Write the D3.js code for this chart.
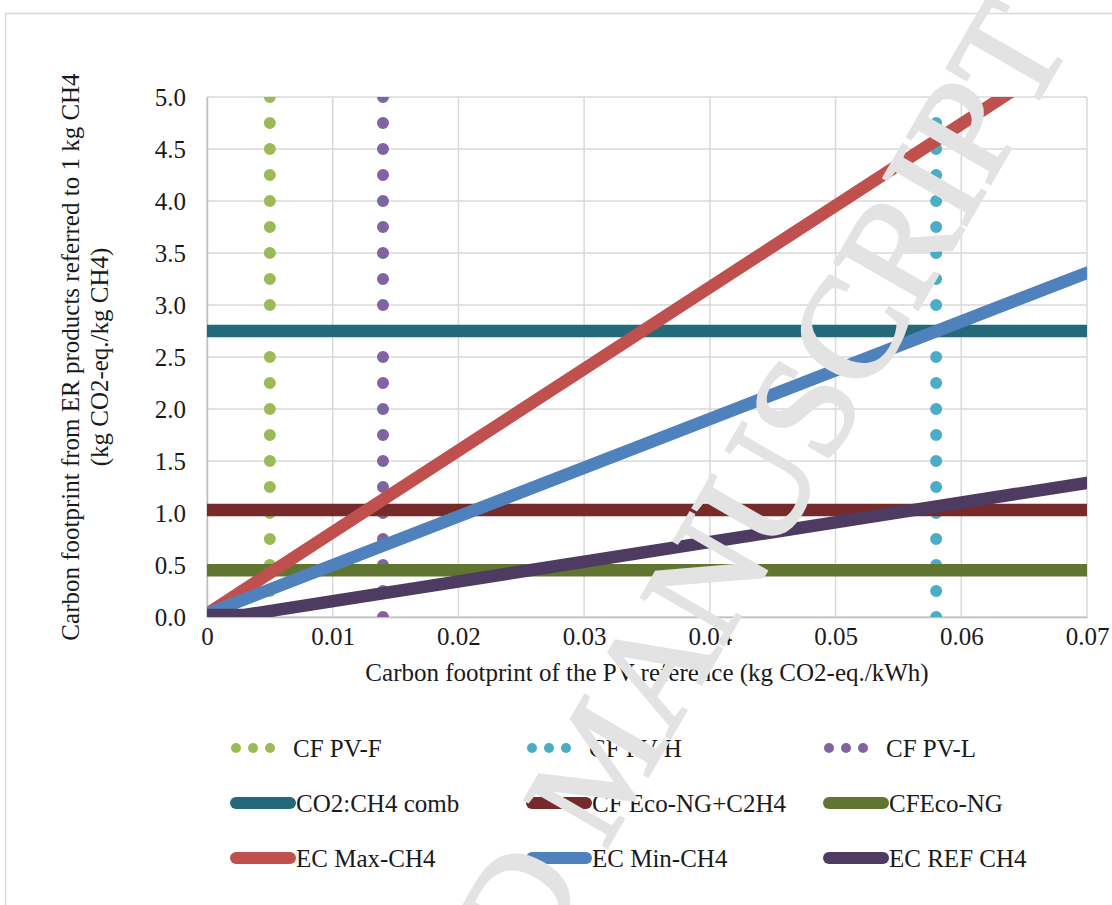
<!DOCTYPE html>
<html>
<head>
<meta charset="utf-8">
<script src="https://cdn.jsdelivr.net/npm/d3@7"></script>
<style>
  html, body { margin: 0; padding: 0; background: #ffffff; }
  svg { display: block; }
  text { font-family: "Liberation Serif", "Times New Roman", serif; fill: #1a1a1a; }
</style>
</head>
<body>
<svg id="chart" width="1112" height="905"></svg>
<script>
// ---- data ----
const xTicks = [0, 0.01, 0.02, 0.03, 0.04, 0.05, 0.06, 0.07];
const yTicks = [0, 0.5, 1.0, 1.5, 2.0, 2.5, 3.0, 3.5, 4.0, 4.5, 5.0];

// vertical reference lines (carbon footprint of each PV technology)
const pvNames  = ["CF PV-F", "CF PV-H", "CF PV-L"];
const pvValues = [0.005, 0.058, 0.014];
const pvColors = ["#9bbb59", "#4bacc6", "#8064a2"];

// horizontal reference lines
const refNames  = ["CO2:CH4 comb", "CF Eco-NG+C2H4", "CFEco-NG"];
const refValues = [2.75, 1.03, 0.45];
const refColors = ["#23697a", "#772a2a", "#5f7530"];

// emission curves vs. PV carbon footprint
const ecNames  = ["EC Max-CH4", "EC Min-CH4", "EC REF CH4"];
const ecColors = ["#c0504d", "#4f81bd", "#4e3b62"];
const ecMaxX = [0, 0.07];
const ecMaxY = [0.03, 5.525];
const ecMinX = [0, 0.07];
const ecMinY = [0.03, 3.31];
const ecRefX = [0, 0.003, 0.07];
const ecRefY = [0.02, 0.02, 1.29];

const xTitle = "Carbon footprint of the PV reference (kg CO2-eq./kWh)";
const yTitle = ["Carbon footprint from ER products referred to 1 kg CH4", "(kg CO2-eq./kg CH4)"];

// ---- layout ----
const FONT = 25;
const svg = d3.select("#chart");
const plot = { left: 207, right: 1087, top: 97, bottom: 617 };
const x = d3.scaleLinear().domain([0, 0.07]).range([plot.left, plot.right]);
const y = d3.scaleLinear().domain([0, 5]).range([plot.bottom, plot.top]);

svg.append("rect").attr("width", 1112).attr("height", 905).attr("fill", "#fff");
// chart area border
svg.append("rect").attr("x", 5.5).attr("y", 13.5).attr("width", 1120).attr("height", 920)
  .attr("fill", "none").attr("stroke", "#d9d9d9").attr("stroke-width", 1.5);

svg.append("clipPath").attr("id", "plotClip").append("rect")
  .attr("x", plot.left).attr("y", plot.top)
  .attr("width", plot.right - plot.left).attr("height", plot.bottom - plot.top);

// gridlines
const grid = svg.append("g");
grid.selectAll("line.gx").data(xTicks).join("line")
  .attr("x1", d => x(d)).attr("x2", d => x(d))
  .attr("y1", plot.top).attr("y2", plot.bottom)
  .attr("stroke", "#d9d9d9").attr("stroke-width", 1.5);
grid.selectAll("line.gy").data(yTicks).join("line")
  .attr("y1", d => y(d)).attr("y2", d => y(d))
  .attr("x1", plot.left).attr("x2", plot.right)
  .attr("stroke", "#d9d9d9").attr("stroke-width", 1.5);

// axes
const xAxis = d3.axisBottom(x).tickValues(xTicks).tickSize(0).tickPadding(10)
  .tickFormat(d => d === 0 ? "0" : d3.format(".2f")(d));
const yAxis = d3.axisLeft(y).tickValues(yTicks).tickSize(0).tickPadding(21)
  .tickFormat(d3.format(".1f"));

const gx = svg.append("g").attr("transform", `translate(0,${plot.bottom})`).call(xAxis);
const gy = svg.append("g").attr("transform", `translate(${plot.left},0)`).call(yAxis);
[gx, gy].forEach(g => {
  g.select(".domain").attr("stroke", "#bfbfbf").attr("stroke-width", 1.5);
  g.selectAll("text").attr("font-family", "Liberation Serif").attr("font-size", FONT).attr("fill", "#1a1a1a");
});

// axis titles
svg.append("text").attr("x", (plot.left + plot.right) / 2).attr("y", 681)
  .attr("text-anchor", "middle").attr("font-size", FONT).text(xTitle);
const yt = svg.append("text").attr("transform", "translate(70,357) rotate(-90)")
  .attr("text-anchor", "middle").attr("font-size", FONT);
yt.selectAll("tspan").data(yTitle).join("tspan")
  .attr("x", 0).attr("dy", (d, i) => i === 0 ? "0.35em" : 29).text(d => d);

// ---- series ----
const series = svg.append("g").attr("clip-path", "url(#plotClip)");

// dotted verticals (one dot every 0.25 on the value axis)
pvValues.forEach((v, i) => {
  series.append("path")
    .attr("d", d3.line()([[x(v), y(0)], [x(v), y(5.25)]]))
    .attr("stroke", pvColors[i]).attr("stroke-width", 12)
    .attr("stroke-linecap", "round").attr("stroke-dasharray", `0 ${y(0) - y(0.25)}`)
    .attr("fill", "none");
});

// horizontal reference levels
refValues.forEach((v, i) => {
  series.append("line")
    .attr("x1", x(0)).attr("x2", x(0.07)).attr("y1", y(v)).attr("y2", y(v))
    .attr("stroke", refColors[i]).attr("stroke-width", 12.5);
});

// emission curves
const line = d3.line().x(d => x(d[0])).y(d => y(d[1]));
[[ecMaxX, ecMaxY], [ecMinX, ecMinY], [ecRefX, ecRefY]].forEach(([xs, ys], i) => {
  series.append("path")
    .attr("d", line(xs.map((xv, j) => [xv, ys[j]])))
    .attr("stroke", ecColors[i]).attr("stroke-width", 12.5)
    .attr("stroke-linejoin", "round").attr("stroke-linecap", "round")
    .attr("fill", "none");
});

// ---- legend ----
const legendCols = [230, 526, 823];
const legendRows = [748, 803, 858];
const legendItems = [
  ...pvNames.map((n, i) => ({ name: n, color: pvColors[i], dotted: true })),
  ...refNames.map((n, i) => ({ name: n, color: refColors[i], dotted: false })),
  ...ecNames.map((n, i) => ({ name: n, color: ecColors[i], dotted: false }))
];
const legend = svg.append("g");
legendItems.forEach((it, k) => {
  const cx = legendCols[k % 3], cy = legendRows[Math.floor(k / 3)];
  if (it.dotted) {
    legend.append("path")
      .attr("d", d3.line()([[cx + 6, cy], [cx + 41, cy]]))
      .attr("stroke", it.color).attr("stroke-width", 10)
      .attr("stroke-linecap", "round").attr("stroke-dasharray", "0 17")
      .attr("fill", "none");
    legend.append("text").attr("x", cx + 63).attr("y", cy).attr("dy", "0.35em")
      .attr("font-size", FONT).text(it.name);
  } else {
    legend.append("line")
      .attr("x1", cx + 6).attr("x2", cx + 60).attr("y1", cy).attr("y2", cy)
      .attr("stroke", it.color).attr("stroke-width", 12).attr("stroke-linecap", "round");
    legend.append("text").attr("x", cx + 66).attr("y", cy).attr("dy", "0.35em")
      .attr("font-size", FONT).text(it.name);
  }
});

// ---- watermark ----
svg.append("text")
  .attr("transform", "translate(597,760) rotate(-60)")
  .attr("text-anchor", "middle").attr("dy", "0.36em")
  .attr("font-family", "Liberation Sans, Arial, sans-serif")
  .attr("font-size", 145)
  .style("fill", "#e3e3e3")
  .style("stroke", "#e3e3e3").style("stroke-width", 3)
  .text("ACCEPTED MANUSCRIPT");
</script>
</body>
</html>
